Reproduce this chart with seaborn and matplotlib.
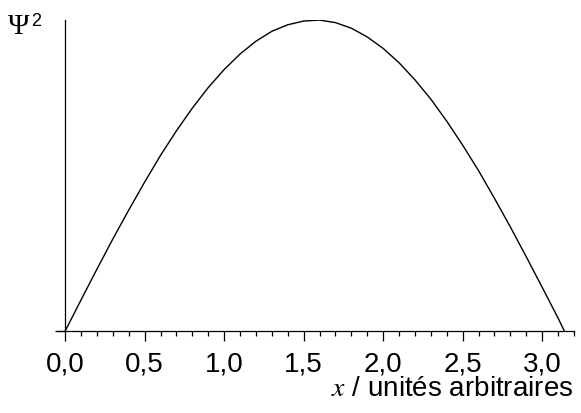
import matplotlib
matplotlib.use("Agg")
import matplotlib.pyplot as plt
import matplotlib.ticker as mticker
import seaborn as sns
import pandas as pd

# values (x in arbitrary units, psi^2 normalised to the peak)
x_vals = [0.0, 0.1, 0.2, 0.3, 0.4, 0.5, 0.6, 0.7, 0.8, 0.9, 1.0,
          1.1, 1.2, 1.3, 1.4, 1.5, 1.6, 1.7, 1.8, 1.9, 2.0, 2.1,
          2.2, 2.3, 2.4, 2.5, 2.6, 2.7, 2.8, 2.9, 3.0, 3.1, 3.14]
psi2_vals = [0.0, 0.100, 0.199, 0.296, 0.389, 0.479, 0.565, 0.644, 0.717, 0.783, 0.841,
             0.891, 0.932, 0.964, 0.985, 0.997, 1.000, 0.992, 0.974, 0.946, 0.909, 0.863,
             0.808, 0.746, 0.675, 0.598, 0.516, 0.427, 0.335, 0.239, 0.141, 0.042, 0.0]

df = pd.DataFrame({"x": x_vals, "psi2": psi2_vals})

sns.set_style("white")
plt.rcParams["font.family"] = ["Liberation Sans", "DejaVu Sans"]
plt.rcParams["mathtext.fontset"] = "stix"
plt.rcParams["text.color"] = "black"
plt.rcParams["xtick.color"] = "black"
plt.rcParams["ytick.color"] = "black"

fig = plt.figure(figsize=(5.81, 4.14), dpi=100)
ax = fig.add_axes([0.0998, 0.198, 0.888, 0.751])

sns.lineplot(data=df, x="x", y="psi2", color="black", linewidth=1.0, ax=ax)

ax.set_xlim(-0.045, 3.2)
ax.set_ylim(0, 1.0)

ax.spines["top"].set_visible(False)
ax.spines["right"].set_visible(False)
ax.spines["left"].set_position(("data", 0))
ax.spines["left"].set_bounds(0, 1.0)
ax.spines["bottom"].set_bounds(-0.045, 3.2)
for s in ("left", "bottom"):
    ax.spines[s].set_color("black")
    ax.spines[s].set_linewidth(0.9)

ax.xaxis.set_major_locator(mticker.MultipleLocator(0.5))
ax.xaxis.set_minor_locator(mticker.MultipleLocator(0.1))
ax.xaxis.set_major_formatter(mticker.FuncFormatter(lambda v, p: f"{v:.1f}".replace(".", ",")))
ax.tick_params(axis="x", which="major", direction="out", length=7, width=0.9,
               color="black", labelcolor="black", labelsize=20, pad=7, bottom=True)
ax.tick_params(axis="x", which="minor", direction="out", length=3.5, width=0.9,
               color="black", bottom=True)

ax.set_yticks([0])
ax.set_yticklabels([])
ax.tick_params(axis="y", direction="out", length=7, width=0.9, color="black", left=True)

ax.set_xlabel("")
ax.set_ylabel("")

fig.text(0.987, 0.044, r"$x$ / unités arbitraires", ha="right", va="baseline",
         fontsize=20, color="black")
fig.text(0.014, 0.918, "Ψ", ha="left", va="baseline", fontsize=21, color="black",
         family=["Liberation Serif", "DejaVu Serif"])
fig.text(0.053, 0.938, "2", ha="left", va="baseline", fontsize=13, color="black")

fig.savefig("out.png", dpi=100)
